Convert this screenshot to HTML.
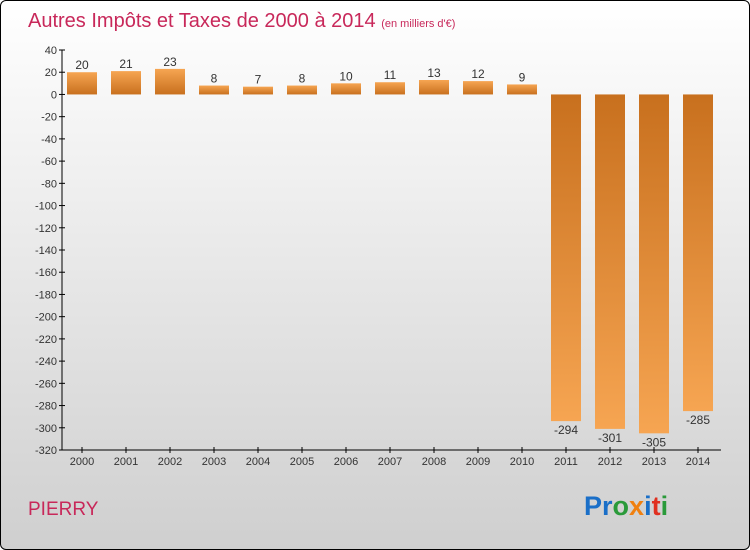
<!DOCTYPE html>
<html><head><meta charset="utf-8"><style>
html,body{margin:0;padding:0}
body{width:750px;height:550px;overflow:hidden;font-family:"Liberation Sans",sans-serif}
#frame{position:absolute;left:0;top:0;width:748px;height:548px;border:1px solid #000;border-radius:6px;background:linear-gradient(#ffffff,#cfcfcf)}
</style></head><body>
<div id="frame"></div>
<svg id="chart" width="750" height="550" style="position:absolute;left:0;top:0">
<defs>
<linearGradient id="gpos" x1="0" y1="0" x2="0" y2="1"><stop offset="0" stop-color="#f6a552"/><stop offset="1" stop-color="#c8701e"/></linearGradient>
<linearGradient id="gneg" x1="0" y1="0" x2="0" y2="1"><stop offset="0" stop-color="#c8701e"/><stop offset="1" stop-color="#f6a552"/></linearGradient>
</defs>
<text x="28" y="27" font-size="20" fill="#c8285a">Autres Impôts et Taxes de 2000 à 2014 <tspan font-size="11">(en milliers d'€)</tspan></text>
<text x="28" y="515" font-size="19" fill="#c8285a">PIERRY</text>
<text x="584" y="515" font-size="27" font-weight="bold"><tspan fill="#1a6fc8">Pr</tspan><tspan fill="#2a9a3a">o</tspan><tspan fill="#f08010">x</tspan><tspan fill="#1a6fc8">i</tspan><tspan fill="#e03020">t</tspan><tspan fill="#2a9a3a">i</tspan></text>
<g id="plot"></g>
</svg>
<script>
const categories=["2000","2001","2002","2003","2004","2005","2006","2007","2008","2009","2010","2011","2012","2013","2014"];
const values=[20,21,23,8,7,8,10,11,13,12,9,-294,-301,-305,-285];
const yTicks=[40,20,0,-20,-40,-60,-80,-100,-120,-140,-160,-180,-200,-220,-240,-260,-280,-300,-320];
const NS="http://www.w3.org/2000/svg";
const g=document.getElementById('plot');
const yMin=-320,yMax=40,pTop=50,pBot=450,pLeft=62,pRight=721;
function y(v){return pTop+(yMax-v)/(yMax-yMin)*(pBot-pTop);}
function x(i){return 82+i*44;}
function mk(t,a){const e=document.createElementNS(NS,t);for(const k in a)e.setAttribute(k,a[k]);g.appendChild(e);return e;}
let ax=mk('line',{x1:pLeft,y1:pTop,x2:pLeft,y2:pBot,stroke:'#000'});


let xa=mk('line',{x1:pLeft,y1:pBot,x2:pRight,y2:pBot,stroke:'#000'});


yTicks.forEach(v=>{
 mk('line',{x1:pLeft-3,y1:y(v),x2:pLeft+3,y2:y(v),stroke:'#000'});
 const t=mk('text',{x:pLeft-5,y:y(v)+4,'font-size':11,'text-anchor':'end',fill:'#333'});
 t.textContent=v;
 
 
});
categories.forEach((c,i)=>{
 mk('line',{x1:x(i),y1:pBot-3,x2:x(i),y2:pBot+3,stroke:'#000'});
 const t=mk('text',{x:x(i),y:pBot+15,'font-size':11,'text-anchor':'middle',fill:'#333'});
 t.textContent=c;
 
 
 const v=values[i];
 const y0=y(0),y1=y(v);
 const r=mk('rect',{x:x(i)-15,y:Math.min(y0,y1),width:30,height:Math.abs(y1-y0),fill:v>=0?'url(#gpos)':'url(#gneg)'});
 
 
 const l=mk('text',{x:x(i),y:v>=0?y1-3:y1+13,'font-size':12,'text-anchor':'middle',fill:'#333'});
 l.textContent=v;
 
 
});
</script>
</body></html>
